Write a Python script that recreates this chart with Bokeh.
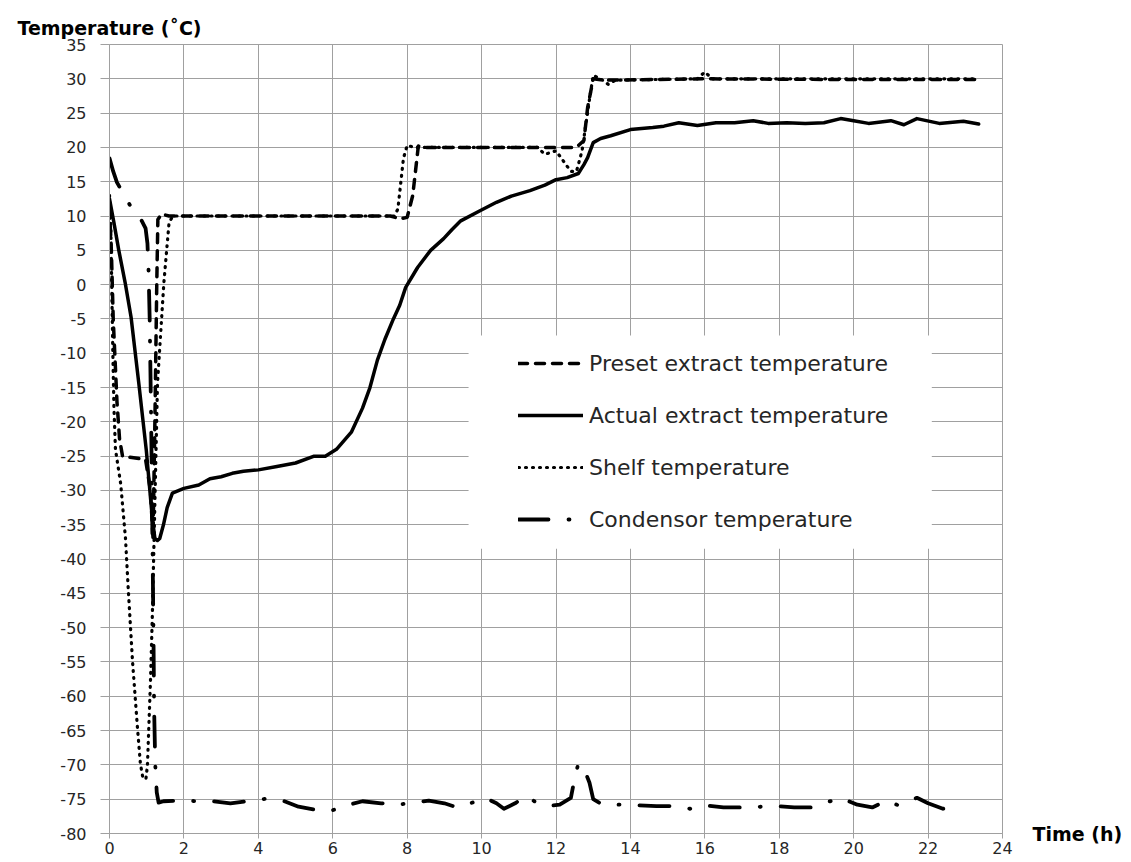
from bokeh.plotting import figure
from bokeh.models import Range1d, Legend, LegendItem, BoxAnnotation, LinearAxis
from bokeh.embed import file_html
from bokeh.resources import INLINE

# ---------------- data ----------------
x_ticks = list(range(0, 25, 2))
y_ticks = list(range(-80, 36, 5))
y_title = "Temperature (˚C)"
x_title = "Time (h)"

preset_h = [0, 0.05, 0.1, 0.15, 0.2, 0.27, 0.35, 0.6, 0.97, 1.1, 1.17, 1.22, 1.27, 1.3, 1.4, 1.6,
            7.55, 7.8, 8.0, 8.15, 8.3, 8.45, 12.55, 12.75, 12.85, 13.0, 13.3, 16.0, 19.5, 22.5, 23.36]
preset_t = [11, 5, -5, -11, -17, -22.5, -25, -25.2, -25.5, -30, -37, -20, 0, 9.5, 10.3, 10,
            10, 9.6, 9.8, 13, 20.2, 20, 20, 21, 25.8, 30, 29.8, 30, 29.9, 29.9, 29.9]

actual_h = [0, 0.12, 0.25, 0.42, 0.58, 0.79, 0.99, 1.15, 1.22, 1.29, 1.35, 1.45, 1.55, 1.69, 2.0, 2.4,
            2.7, 3.0, 3.3, 3.6, 4.0, 4.5, 5.0, 5.5, 5.8, 6.1, 6.5, 6.8, 7.0, 7.2, 7.4, 7.63, 7.8,
            7.96, 8.28, 8.63, 8.98, 9.2, 9.44, 9.97, 10.4, 10.8, 11.3, 11.7, 12.0, 12.3, 12.6,
            12.75, 12.85, 13.0, 13.2, 13.47, 14.0, 14.6, 14.9, 15.3, 15.8, 16.3, 16.8, 17.3, 17.7,
            18.2, 18.7, 19.2, 19.65, 20.0, 20.4, 21.0, 21.35, 21.7, 22.3, 22.95, 23.36]
actual_t = [12.5, 9, 5, 0.3, -4.75, -14.5, -24.2, -34, -37, -37.3, -37, -35, -32.5, -30.4, -29.7, -29.2,
            -28.3, -28, -27.5, -27.2, -27, -26.5, -26, -25, -25, -24, -21.5, -18, -15, -11, -8, -5, -3,
            -0.4, 2.5, 5, 6.7, 8, 9.3, 10.8, 12, 12.9, 13.7, 14.5, 15.3, 15.6, 16.2,
            17.5, 18.5, 20.7, 21.3, 21.7, 22.6, 22.9, 23.1, 23.6, 23.2, 23.6, 23.6, 23.9, 23.5,
            23.6, 23.5, 23.6, 24.2, 23.9, 23.5, 23.9, 23.3, 24.2, 23.5, 23.8, 23.4]

shelf_h = [0, 0.03, 0.06, 0.09, 0.12, 0.16, 0.3, 0.43, 0.5, 0.62, 0.75, 0.83, 0.9, 0.98, 1.02, 1.1,
           1.15, 1.19, 1.29, 1.46, 1.6, 1.7, 7.65, 7.75, 7.9, 8.0, 8.2, 11.5, 11.7, 12.0, 12.2, 12.4,
           12.55, 12.7, 12.9, 13.0, 13.2, 13.4, 13.6, 15.8, 16.0, 16.2, 23.36]
shelf_t = [13, 10, 0, -10, -18, -24, -29, -37, -44, -55, -64.5, -69.8, -72, -72, -70, -58,
           -48.5, -39, -14.4, 0.2, 9, 10, 10, 11, 18.4, 20.3, 20, 20, 19, 19.5, 18, 16.5,
           16.5, 19.5, 27, 30.5, 30, 29.2, 29.8, 30, 31, 30, 30]

cond_h = [0, 0.1, 0.2, 0.4, 0.6, 0.8, 0.97, 1.02, 1.05, 1.08, 1.12, 1.15, 1.18, 1.2, 1.23, 1.27, 1.32,
          1.45, 2.0, 2.4, 2.8, 3.25, 3.7, 4.25, 4.7, 5.08, 5.6, 6.0, 6.3, 6.8, 7.3, 7.74, 8.2, 8.58,
          9.0, 9.35, 9.7, 10.1, 10.4, 10.6, 10.9, 11.2, 11.5, 11.8, 12.1, 12.4, 12.5, 12.6, 12.75,
          12.9, 13.0, 13.25, 13.7, 14.2, 14.7, 15.2, 15.6, 16.0, 16.5, 17.0, 17.5, 17.9, 18.4,
          18.85, 19.2, 19.65, 20.1, 20.5, 20.9, 21.2, 21.7, 22.0, 22.4, 22.9]
cond_t = [18.4, 16.5, 14.9, 13, 11.1, 10, 8.2, 6, 2, -5, -20, -35, -50, -62, -70, -74, -75.5,
          -75.3, -75.2, -75.3, -75.3, -75.6, -75.3, -74.9, -75.3, -76.1, -76.6, -76.6, -76, -75.3,
          -75.6, -75.8, -75.5, -75.2, -75.6, -76.2, -75.6, -74.8, -75.6, -76.4, -75.6, -74.5,
          -75.6, -76, -75.8, -74.8, -72, -69.8, -70.5, -72.6, -75, -75.8, -75.8, -75.9, -76,
          -76, -76.4, -75.9, -76.2, -76.2, -76.1, -76, -76.2, -76.2, -75.6, -74.8, -75.8, -76.2,
          -75.2, -75.9, -74.8, -75.6, -76.4, -75.6]

series_labels = ["Preset extract temperature", "Actual extract temperature",
                 "Shelf temperature", "Condensor temperature"]

# ---------------- styling ----------------
GRID = "#a0a0a0"
TEXT = "#262626"
FONT = "DejaVu Sans"

p = figure(width=1125, height=861, output_backend="svg", toolbar_location=None,
           title_location=None,
           x_range=Range1d(0, 24), y_range=Range1d(-80, 35),
           min_border_left=109, min_border_right=123, min_border_top=44, min_border_bottom=28)
p.background_fill_color = "white"
p.border_fill_color = "white"
p.outline_line_color = GRID
p.outline_line_width = 1

p.xaxis.ticker = x_ticks
p.yaxis.ticker = y_ticks
p.xaxis.major_label_overrides = {v: str(v) for v in x_ticks}
p.yaxis.major_label_overrides = {v: str(v) for v in y_ticks}
for ax in (p.xaxis, p.yaxis):
    ax.axis_line_color = GRID
    ax.major_tick_line_color = GRID
    ax.minor_tick_line_color = None
    ax.major_tick_in = 0
    ax.major_label_text_font = FONT
    ax.major_label_text_font_size = "16px"
    ax.major_label_text_color = TEXT
p.xaxis.major_tick_out = 5
p.xaxis.major_label_standoff = 3
p.yaxis.major_tick_out = 9
p.yaxis.major_label_standoff = 14

p.xgrid.grid_line_color = GRID
p.ygrid.grid_line_color = GRID
p.xgrid.grid_line_width = 1
p.ygrid.grid_line_width = 1

# axis titles: a single labelled tick on an extra top / right axis
top_ax = LinearAxis(ticker=[0], major_label_overrides={0: y_title},
                    axis_line_color=None, major_tick_line_color=None, minor_tick_line_color=None,
                    major_tick_in=0, major_tick_out=0, major_label_standoff=6,
                    major_label_text_font=FONT, major_label_text_font_size="19px",
                    major_label_text_font_style="bold", major_label_text_color="black")
p.add_layout(top_ax, "above")
right_ax = LinearAxis(ticker=[-80], major_label_overrides={-80: x_title},
                      axis_line_color=None, major_tick_line_color=None, minor_tick_line_color=None,
                      major_tick_in=0, major_tick_out=0, major_label_standoff=30,
                      major_label_text_font=FONT, major_label_text_font_size="19px",
                      major_label_text_font_style="bold", major_label_text_color="black")
p.add_layout(right_ax, "right")

# white background behind legend (covers grid)
p.add_layout(BoxAnnotation(left=9.65, right=22.1, top=-7.4, bottom=-38.5,
                           fill_color="white", fill_alpha=1, line_color=None))

r_preset = p.line(preset_h, preset_t, line_color="black", line_width=3.5,
                  line_dash="9 8", line_cap="round", line_join="round")
r_actual = p.line(actual_h, actual_t, line_color="black", line_width=3.5,
                  line_cap="round", line_join="round")
r_shelf = p.line(shelf_h, shelf_t, line_color="black", line_width=3.2,
                 line_dash="1 6", line_cap="round", line_join="round")
r_cond = p.line(cond_h, cond_t, line_color="black", line_width=3.8,
                line_dash="30 20 1 20", line_cap="round", line_join="round")

legend = Legend(items=[LegendItem(label=series_labels[0], renderers=[r_preset]),
                       LegendItem(label=series_labels[1], renderers=[r_actual]),
                       LegendItem(label=series_labels[2], renderers=[r_shelf]),
                       LegendItem(label=series_labels[3], renderers=[r_cond])],
                location=(409, 299), padding=8, spacing=22, margin=0,
                label_height=30, glyph_height=30, glyph_width=65, label_standoff=6,
                background_fill_alpha=0, border_line_color=None,
                label_text_font=FONT, label_text_font_size="22px", label_text_color=TEXT)
p.add_layout(legend, "center")

open("out.html", "w").write(file_html(p, INLINE))
